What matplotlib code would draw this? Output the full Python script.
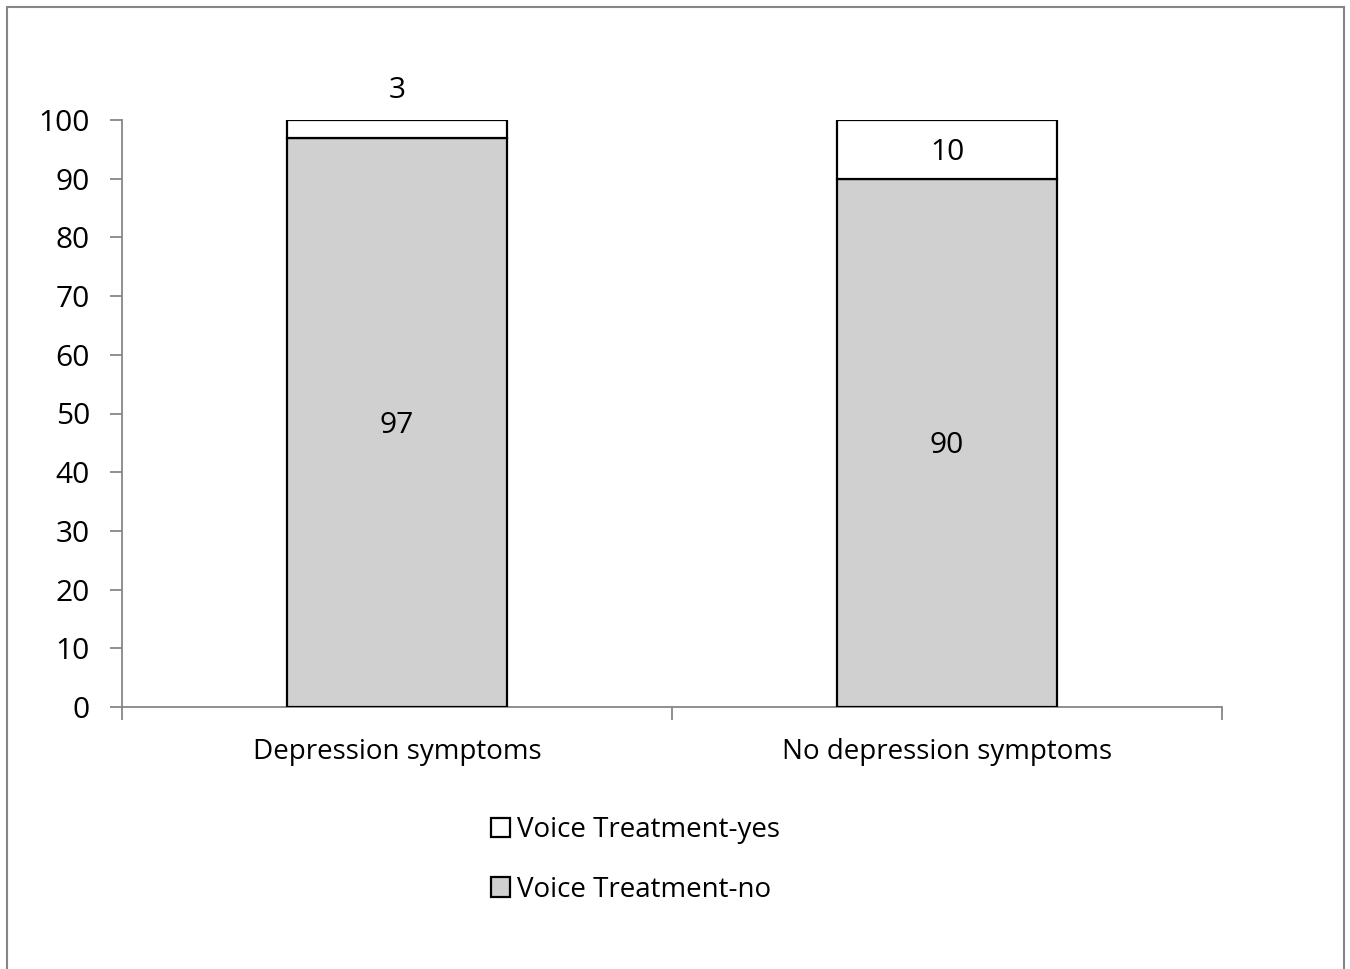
import matplotlib.pyplot as plt
from matplotlib.patches import Patch, Rectangle

plt.rcParams['font.family'] = ['Open Sans', 'DejaVu Sans']

categories = ["Depression symptoms", "No depression symptoms"]
treatment_no = [97, 90]
treatment_yes = [3, 10]
series_labels = ["Voice Treatment-yes", "Voice Treatment-no"]
yticks = [0, 10, 20, 30, 40, 50, 60, 70, 80, 90, 100]

W, H = 1350, 969
fig = plt.figure(figsize=(W / 100, H / 100), dpi=100)
ax = fig.add_axes([122 / W, 1 - 707 / H, 1100 / W, 587 / H])

fs_txt = 20
fs_num = 21.5
gray_fill = "#d0d0d0"
spine_col = "#868686"

x = [0, 1]
bw = 0.4
ax.bar(x, treatment_no, width=bw, color=gray_fill, edgecolor="black", linewidth=1.6, zorder=3)
ax.bar(x, treatment_yes, width=bw, bottom=treatment_no, color="white",
       edgecolor="black", linewidth=1.6, zorder=3)

# segment labels
for xi, v in zip(x, treatment_no):
    ax.text(xi, v / 2 - 0.5, str(v), ha="center", va="center", fontsize=fs_num)
for xi, b, v in zip(x, treatment_no, treatment_yes):
    if v < 5:
        ax.text(xi, b + v + 5.0, str(v), ha="center", va="center", fontsize=fs_num)
    else:
        ax.text(xi, b + v / 2 - 0.5, str(v), ha="center", va="center", fontsize=fs_num)

ax.set_xlim(-0.5, 1.5)
ax.set_ylim(0, 100)
ax.set_yticks(yticks)
ax.set_yticklabels([str(t) for t in yticks], fontsize=fs_num)
ax.set_xticks([-0.5, 0.5, 1.5])
ax.set_xticklabels([])
ax.set_xticks(x, minor=True)
ax.set_xticklabels(categories, minor=True, fontsize=fs_txt)
ax.tick_params(axis="x", which="minor", length=0, pad=22)
ax.tick_params(axis="x", which="major", length=9, width=1.3, color=spine_col, direction="out")
ax.tick_params(axis="y", length=9, width=1.3, color=spine_col, direction="out", pad=14)

for s in ["top", "right"]:
    ax.spines[s].set_visible(False)
for s in ["left", "bottom"]:
    ax.spines[s].set_color(spine_col)
    ax.spines[s].set_linewidth(1.3)

handles = [Patch(facecolor="white", edgecolor="black", linewidth=1.6),
           Patch(facecolor=gray_fill, edgecolor="black", linewidth=1.6)]
fig.legend(handles, series_labels, loc="upper left",
           bbox_to_anchor=(466 / W, 1 - 791 / H), frameon=False, fontsize=fs_txt,
           handlelength=0.7, handleheight=0.7, handletextpad=0.25, labelspacing=1.15)

# outer frame
fig.patches.append(Rectangle((7 / W, -0.01), (1344 - 7) / W, 1 - 7 / H + 0.01,
                             transform=fig.transFigure, fill=False,
                             edgecolor=spine_col, linewidth=1.5))

fig.savefig("out.png", dpi=100)
